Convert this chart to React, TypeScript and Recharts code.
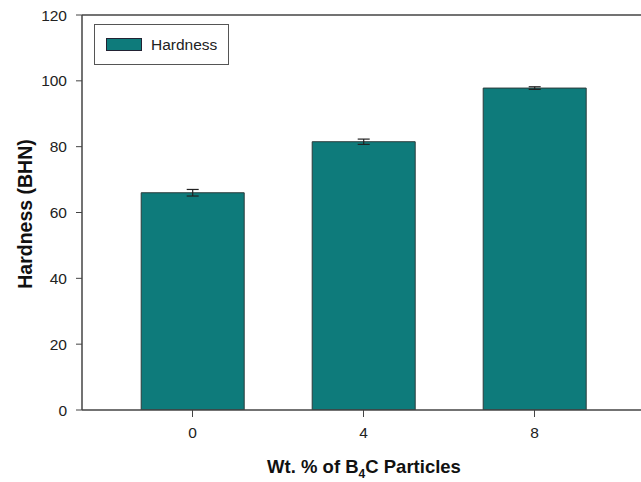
import React from 'react';
import { BarChart, Bar, XAxis, YAxis, ErrorBar, ReferenceLine, Label } from 'recharts';

const categories = ['0', '4', '8'];
const hardness = [66, 81.5, 97.8];
const hardnessErr = [1.0, 0.8, 0.4];
const yTicks = [0, 20, 40, 60, 80, 100, 120];

const data = categories.map((c, i) => ({ wt: c, hardness: hardness[i], err: hardnessErr[i] }));

const FONT = '"Liberation Sans", Arial, Helvetica, sans-serif';
const TEAL = '#0e7b7b';

// legend drawn as an overlay so it doesn't eat plot space
const LegendBox = () => (
    <div style={{
        position: 'absolute', left: 94, top: 24,
        width: 133, height: 39, border: '1px solid #555', background: '#fff',
        display: 'flex', alignItems: 'center',
        fontFamily: FONT, fontSize: 15.5, color: '#222',
    }}>
        <span style={{ display: 'inline-block', width: 34, height: 11, background: TEAL, border: '1px solid #223', marginLeft: 11, marginRight: 9 }} />
        <span>Hardness</span>
    </div>
);

export default function App() {
    return (
        <div style={{ position: 'absolute', left: 0, top: 0, width: 641, height: 482, background: '#fff' }}>
            <BarChart
                width={641}
                height={482}
                data={data}
                margin={{ top: 15, right: 0, bottom: 0, left: 0 }}
                barCategoryGap="20%"
            >
                <XAxis
                    dataKey="wt"
                    height={72}
                    padding={{ left: 25, right: 21 }}
                    axisLine={{ stroke: '#444', strokeWidth: 1.5 }}
                    tickLine={{ stroke: '#444' }}
                    tickSize={7}
                    tickMargin={10}
                    tick={{ fill: '#222', fontSize: 15.5, fontFamily: FONT }}
                >
                    <Label
                        content={() => (
                            <text x={364} y={473} textAnchor="middle" fontFamily={FONT} fontSize={18.5} fontWeight="bold" fill="#111">
                                Wt. % of B<tspan fontSize={12} dy={5}>4</tspan><tspan dy={-5}>C Particles</tspan>
                            </text>
                        )}
                    />
                </XAxis>
                <YAxis
                    width={82}
                    domain={[0, 120]}
                    ticks={yTicks}
                    interval={0}
                    allowDataOverflow
                    axisLine={{ stroke: '#444', strokeWidth: 1.5 }}
                    tickLine={{ stroke: '#444' }}
                    tickSize={6}
                    tickMargin={9}
                    tick={{ fill: '#222', fontSize: 15.5, fontFamily: FONT }}
                >
                    <Label
                        content={() => (
                            <text x={32} y={214} transform="rotate(-90 32 214)" textAnchor="middle" fontFamily={FONT} fontSize={19.5} fontWeight="bold" fill="#111">
                                Hardness (BHN)
                            </text>
                        )}
                    />
                </YAxis>
                <ReferenceLine y={120} stroke="#444" strokeWidth={1.5} />
                <Bar dataKey="hardness" fill={TEAL} stroke="#2b3b3b" strokeWidth={1} isAnimationActive={false}>
                    <ErrorBar dataKey="err" width={6} stroke="#222" strokeWidth={1.2} direction="y" />
                </Bar>
            </BarChart>
            <LegendBox />
        </div>
    );
}
